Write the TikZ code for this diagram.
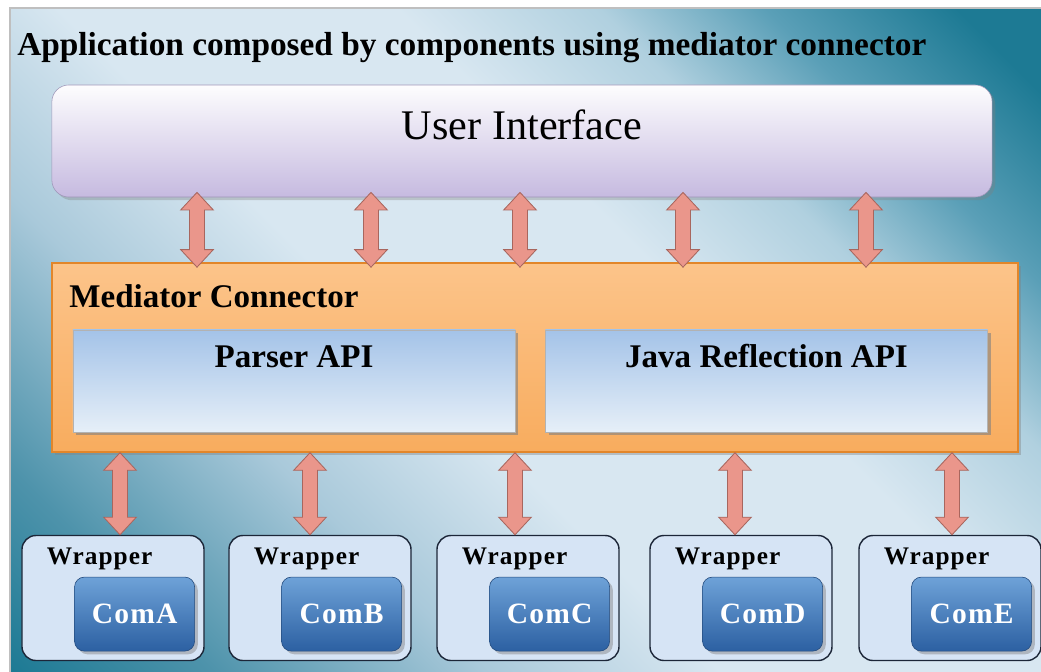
\documentclass[tikz,border=0pt]{standalone}
\usepackage{fontspec}
\setmainfont{Liberation Serif}
\usetikzlibrary{positioning,calc,shadows}

\definecolor{bgdark}{HTML}{1D7A94}
\definecolor{bgteal}{HTML}{4E93AB}
\definecolor{bggrey}{HTML}{A9C9DA}
\definecolor{bglight}{HTML}{D8E7F1}
\definecolor{bgpale}{HTML}{B0D0DF}
\definecolor{bgmid}{HTML}{5A9FB7}
\definecolor{uitop}{HTML}{FDFDFE}
\definecolor{uibot}{HTML}{C6BAE0}
\definecolor{uiline}{HTML}{9E96B8}
\definecolor{medtop}{HTML}{FCC48A}
\definecolor{medbot}{HTML}{F8AC5E}
\definecolor{medline}{HTML}{E2862A}
\definecolor{apitop}{HTML}{A4C3E8}
\definecolor{apibot}{HTML}{E6EFF8}
\definecolor{wrapfill}{HTML}{D6E4F5}
\definecolor{wrapline}{HTML}{1C2638}
\definecolor{comtop}{HTML}{6EA2D8}
\definecolor{combot}{HTML}{2C60A2}
\definecolor{comline}{HTML}{234A7C}
\definecolor{arrowfill}{HTML}{EA968B}
\definecolor{arrowline}{HTML}{A8665E}

\pgfdeclareverticalshading{bgshade}{100bp}{color(0bp)=(bgdark); color(14.6bp)=(bgdark); color(23bp)=(bgteal);
  color(34.4bp)=(bggrey); color(44.3bp)=(bglight); color(58.5bp)=(bglight); color(67bp)=(bgpale);
  color(74bp)=(bgmid); color(82bp)=(bgdark); color(100bp)=(bgdark)}

\tikzset{
  uibox/.style={draw=uiline, top color=uitop, bottom color=uibot, rounded corners=12pt,
    minimum width=23.5cm, minimum height=2.8cm, drop shadow={opacity=0.35}},
  medbox/.style={draw=medline, line width=1pt, top color=medtop, bottom color=medbot,
    minimum width=24.15cm, minimum height=4.725cm, drop shadow={opacity=0.4}},
  apibox/.style={draw=gray!60, top color=apitop, bottom color=apibot,
    minimum width=11.05cm, minimum height=2.55cm, drop shadow={opacity=0.6}},
  wrapbox/.style={draw=wrapline, line width=1pt, fill=wrapfill, rounded corners=10pt,
    minimum width=4.55cm, minimum height=3.125cm},
  combox/.style={draw=comline, top color=comtop, bottom color=combot, rounded corners=7pt,
    minimum width=3cm, minimum height=1.85cm, text=white,
    font=\bfseries\fontsize{21}{24}\selectfont\addfontfeatures{LetterSpace=4},
    drop shadow={opacity=0.45}},
  apitext/.style={font=\bfseries\fontsize{23.5}{27}\selectfont},
  wraptext/.style={font=\bfseries\fontsize{18}{21}\selectfont\addfontfeatures{LetterSpace=4}},
  dblarrow/.style={draw=arrowline, fill=arrowfill, line width=0.6pt,
    to path={let \p1=(\tikztostart), \p2=(\tikztotarget) in
      (\x1,\y1) -- (\x1+11.6pt,\y1-12.5pt) -- (\x1+5.3pt,\y1-12.5pt) -- (\x1+5.3pt,\y2+12.5pt)
      -- (\x1+11.6pt,\y2+12.5pt) -- (\x1,\y2) -- (\x1-11.6pt,\y2+12.5pt) -- (\x1-5.3pt,\y2+12.5pt)
      -- (\x1-5.3pt,\y1-12.5pt) -- (\x1-11.6pt,\y1-12.5pt) -- cycle}}
}

\begin{document}
\begin{tikzpicture}[x=0.025cm, y=-0.025cm]
\useasboundingbox (0,0) rectangle (1041,672);
% background panel
\fill[white] (0,0) rectangle (1041,672);
\shade[shading=bgshade, shading angle=-45] (10,8) rectangle (1041,672);
\draw[gray!50, line width=0.8pt] (10,672) -- (10,8) -- (1041,8);

\node[anchor=base west, inner sep=0, font=\bfseries\fontsize{23.7}{27}\selectfont] (title) at (17,55)
  {Application composed by components using mediator connector};

% top layer
\node[uibox, label={[anchor=base, yshift=-39pt, font=\fontsize{30}{34}\selectfont]north:User Interface}] (ui) at (522,141) {};

% mediator connector
\node[medbox, label={[anchor=base west, inner sep=0, xshift=12.8pt, yshift=-32pt, apitext]north west:Mediator Connector}] (med) at (535,357.5) {};
\node[apibox, label={[anchor=base, yshift=-27pt, apitext]north:Parser API}] (parser) at (294,381) {};
\node[apibox, label={[anchor=base, yshift=-27pt, apitext]north:Java Reflection API}] (java) at (766.5,381) {};

% wrapped components
\foreach \cx/\cn in {113/A, 320/B, 528/C, 741/D, 950/E} {
  \node[wrapbox, label={[anchor=base west, inner sep=0, xshift=18pt, yshift=-21pt, wraptext]north west:Wrapper}] (w\cn) at (\cx,598) {};
  \node[combox, above left=7pt and 7pt of w\cn.south east] (com\cn) {Com\cn};
}

% connectors
\foreach \cx in {197,371,520,683,866}
  \draw[dblarrow] ([yshift=3.5pt]ui.south -| \cx,0) to ([yshift=-3.5pt]med.north -| \cx,0);
\foreach \cx/\cn in {120/A, 310/B, 515/C, 735/D, 952/E}
  \draw[dblarrow] (med.south -| \cx,0) to (w\cn.north -| \cx,0);
\end{tikzpicture}
\end{document}
